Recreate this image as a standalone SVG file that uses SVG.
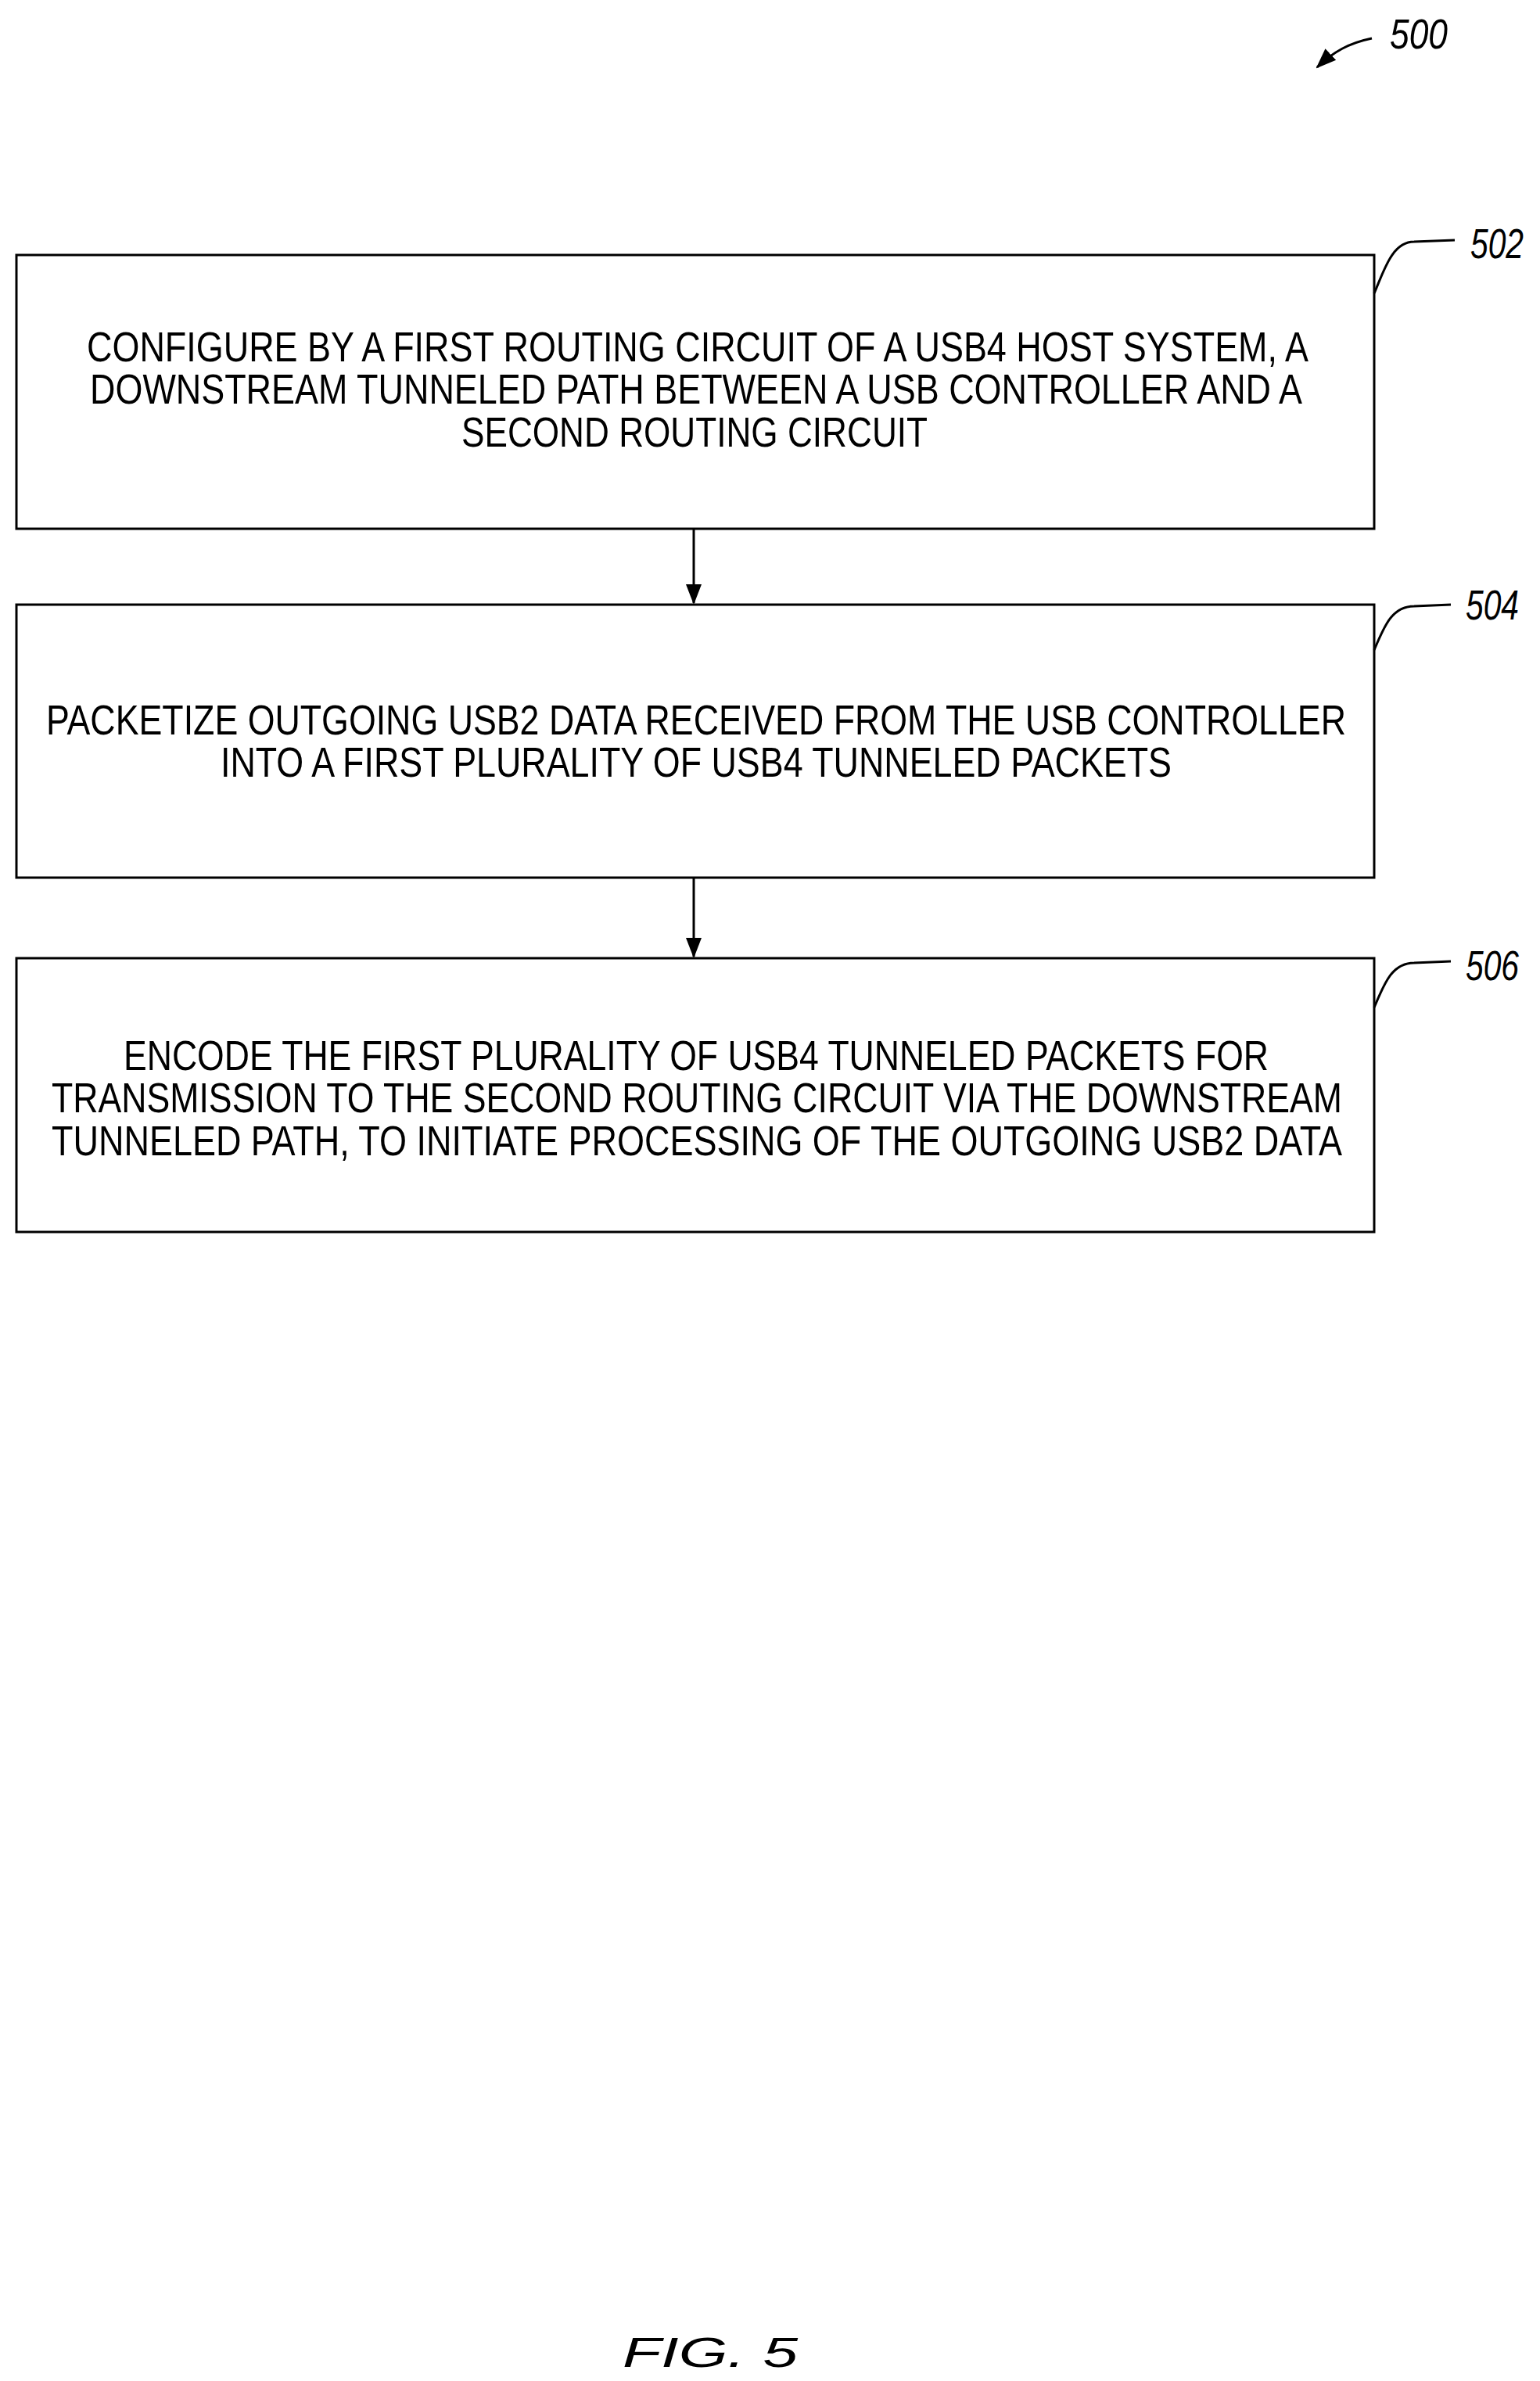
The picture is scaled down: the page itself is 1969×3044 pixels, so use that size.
<svg xmlns="http://www.w3.org/2000/svg" width="1969" height="3044" viewBox="0 0 1969 3044">
<style>
.box{fill:#fff;stroke:#000;stroke-width:3}
.t{font-family:"Liberation Sans",Arial,sans-serif;font-size:54px;fill:#000}
.ref{font-family:"Liberation Sans",Arial,sans-serif;font-size:54px;font-style:italic;fill:#000}
.ln{fill:none;stroke:#000;stroke-width:3}
</style>
<defs>
<marker id="ah2" markerWidth="26" markerHeight="26" refX="24" refY="13" orient="auto" markerUnits="userSpaceOnUse" viewBox="0 0 26 26"><path d="M0,3 L26,13 L0,23 z" fill="#000"/></marker></defs>
<rect width="1969" height="3044" fill="#fff"/>
<g id="n500"><text class="ref" x="1777" y="62" textLength="74" lengthAdjust="spacingAndGlyphs">500</text><path class="ln" d="M1754,49 C1725,55 1705,66 1684,86" marker-end="url(#ah2)"/></g>
<g id="n502"><rect class="box" x="21" y="326" width="1736" height="350"/>
<text class="t" x="111" y="462" textLength="1562" lengthAdjust="spacingAndGlyphs">CONFIGURE BY A FIRST ROUTING CIRCUIT OF A USB4 HOST SYSTEM, A</text>
<text class="t" x="115" y="516" textLength="1550" lengthAdjust="spacingAndGlyphs">DOWNSTREAM TUNNELED PATH BETWEEN A USB CONTROLLER AND A</text>
<text class="t" x="590" y="571" textLength="596" lengthAdjust="spacingAndGlyphs">SECOND ROUTING CIRCUIT</text>
<text class="ref" x="1880" y="330" textLength="68" lengthAdjust="spacingAndGlyphs">502</text><path class="ln" d="M1757,375 C1770,345 1780,309 1808,309 L1860,307"/></g>
<g id="n504"><rect class="box" x="21" y="773" width="1736" height="349"/>
<text class="t" x="59" y="939" textLength="1662" lengthAdjust="spacingAndGlyphs">PACKETIZE OUTGOING USB2 DATA RECEIVED FROM THE USB CONTROLLER</text>
<text class="t" x="282" y="993" textLength="1216" lengthAdjust="spacingAndGlyphs">INTO A FIRST PLURALITY OF USB4 TUNNELED PACKETS</text>
<text class="ref" x="1874" y="792" textLength="68" lengthAdjust="spacingAndGlyphs">504</text><path class="ln" d="M1757,831 C1770,800 1780,775 1808,775 L1855,773"/></g>
<g id="n506"><rect class="box" x="21" y="1225" width="1736" height="350"/>
<text class="t" x="158" y="1368" textLength="1464" lengthAdjust="spacingAndGlyphs">ENCODE THE FIRST PLURALITY OF USB4 TUNNELED PACKETS FOR</text>
<text class="t" x="66" y="1422" textLength="1650" lengthAdjust="spacingAndGlyphs">TRANSMISSION TO THE SECOND ROUTING CIRCUIT VIA THE DOWNSTREAM</text>
<text class="t" x="66" y="1477" textLength="1650" lengthAdjust="spacingAndGlyphs">TUNNELED PATH, TO INITIATE PROCESSING OF THE OUTGOING USB2 DATA</text>
<text class="ref" x="1874" y="1253" textLength="68" lengthAdjust="spacingAndGlyphs">506</text><path class="ln" d="M1757,1288 C1770,1257 1780,1231 1808,1231 L1855,1229"/></g>
<g id="connectors">
<line class="ln" x1="887" y1="676" x2="887" y2="771" marker-end="url(#ah2)"/>
<line class="ln" x1="887" y1="1122" x2="887" y2="1223" marker-end="url(#ah2)"/>
</g>
<text class="ref" x="796" y="3026" font-size="124" textLength="224" lengthAdjust="spacingAndGlyphs">FIG. 5</text>
</svg>
